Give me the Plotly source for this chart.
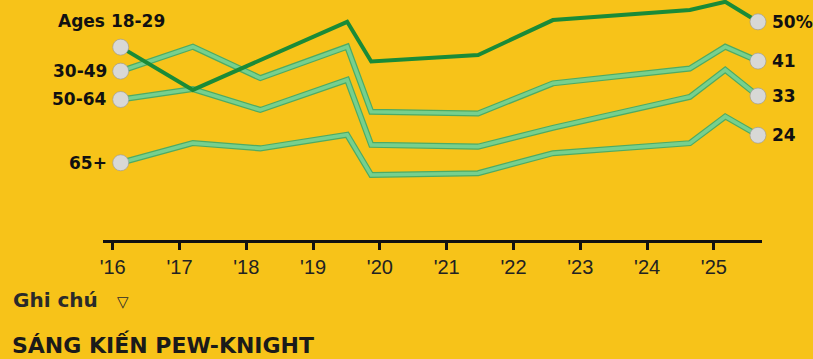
import plotly.graph_objects as go

# Survey waves (fractional years) and share of each age group, in percent
years_1829 = [2016.12, 2017.20, 2019.51, 2019.87, 2021.47, 2022.59, 2024.64, 2025.17, 2025.66]
vals_1829 = [44.2, 34.4, 50.0, 40.9, 42.4, 50.4, 52.7, 54.6, 50]

years_other = [2016.12, 2017.20, 2018.21, 2019.51, 2019.87, 2021.47, 2022.59, 2024.64, 2025.17, 2025.66]
vals_3049 = [38.7, 44.3, 37.1, 44.3, 29.4, 29.0, 35.9, 39.3, 44.3, 41]
vals_5064 = [32.2, 34.6, 29.8, 36.7, 21.8, 21.4, 25.7, 32.8, 39.0, 33]
vals_65 = [17.7, 22.2, 21.0, 24.1, 14.9, 15.3, 19.9, 22.2, 28.3, 24]

left_labels = ["Ages 18-29", "30-49", "50-64", "65+"]
right_labels = ["50%", "41", "33", "24"]

tick_years = [2016, 2017, 2018, 2019, 2020, 2021, 2022, 2023, 2024, 2025]
tick_text = ["'16", "'17", "'18", "'19", "'20", "'21", "'22", "'23", "'24", "'25"]

BG = "rgb(247,195,25)"
DARK = "#1a8b38"
LIGHT_EDGE = "#4dab64"
LIGHT_FILL = "#76d08e"
DOT = "#d8d8d6"
LABEL_FONT = dict(family="DejaVu Sans", size=17, color="#111111")

fig = go.Figure()

light_series = [(years_other, vals_3049), (years_other, vals_5064), (years_other, vals_65)]
for xs, ys in light_series:
    fig.add_trace(go.Scatter(x=xs, y=ys, mode="lines", hoverinfo="skip",
                             line=dict(color=LIGHT_EDGE, width=6), cliponaxis=False))
    fig.add_trace(go.Scatter(x=xs, y=ys, mode="lines", hoverinfo="skip",
                             line=dict(color=LIGHT_FILL, width=3.6), cliponaxis=False))

fig.add_trace(go.Scatter(x=years_1829, y=vals_1829, mode="lines", hoverinfo="skip",
                         line=dict(color=DARK, width=4), cliponaxis=False))

all_series = [(years_1829, vals_1829), (years_other, vals_3049),
              (years_other, vals_5064), (years_other, vals_65)]

# End-point dots
dot_x = [s[0][0] for s in all_series] + [s[0][-1] for s in all_series]
dot_y = [s[1][0] for s in all_series] + [s[1][-1] for s in all_series]
fig.add_trace(go.Scatter(x=dot_x, y=dot_y, mode="markers", hoverinfo="skip",
                         marker=dict(size=16, color=DOT,
                                     line=dict(color="rgba(150,150,150,0.6)", width=1)),
                         cliponaxis=False))

annotations = []
# Group names at the start of each line
for i, ((xs, ys), name) in enumerate(zip(all_series, left_labels)):
    if i == 0:
        annotations.append(dict(x=xs[0], y=ys[0], text=f"<b>{name}</b>", showarrow=False,
                                xanchor="center", yanchor="middle", xshift=-9, yshift=26,
                                font=LABEL_FONT))
    else:
        annotations.append(dict(x=xs[0], y=ys[0], text=f"<b>{name}</b>", showarrow=False,
                                xanchor="right", yanchor="middle", xshift=-12,
                                font=LABEL_FONT))
# Latest values at the end of each line
for (xs, ys), txt in zip(all_series, right_labels):
    annotations.append(dict(x=xs[-1], y=ys[-1], text=f"<b>{txt}</b>", showarrow=False,
                            xanchor="left", yanchor="middle", xshift=12,
                            font=LABEL_FONT))

annotations.append(dict(xref="paper", yref="paper", x=-92 / 659, y=-60 / 240,
                        text="<b>Ghi chú</b>&nbsp;&nbsp; <span style='font-size:15px'>▽</span>",
                        showarrow=False, xanchor="left", yanchor="middle",
                        font=dict(family="DejaVu Sans", size=20, color="#2a2a2a")))
annotations.append(dict(xref="paper", yref="paper", x=-93 / 659, y=-104 / 240,
                        text="<b>SÁNG KIẾN PEW-KNIGHT</b>",
                        showarrow=False, xanchor="left", yanchor="middle",
                        font=dict(family="DejaVu Sans", size=22, color="#1a1a1a")))

fig.update_layout(
    width=813, height=359,
    margin=dict(l=103, r=51, t=0, b=119),
    paper_bgcolor=BG, plot_bgcolor=BG,
    showlegend=False,
    annotations=annotations,
    xaxis=dict(range=[2015.855, 2025.72], showgrid=False, zeroline=False,
               showline=True, linecolor="#111111", linewidth=3,
               ticks="outside", ticklen=7, tickwidth=3, tickcolor="#111111",
               tickvals=tick_years, ticktext=tick_text,
               tickfont=dict(family="Liberation Sans", size=20, color="#222222")),
    yaxis=dict(range=[0, 55], visible=False, showgrid=False, zeroline=False),
)

fig.write_html("out.html")
